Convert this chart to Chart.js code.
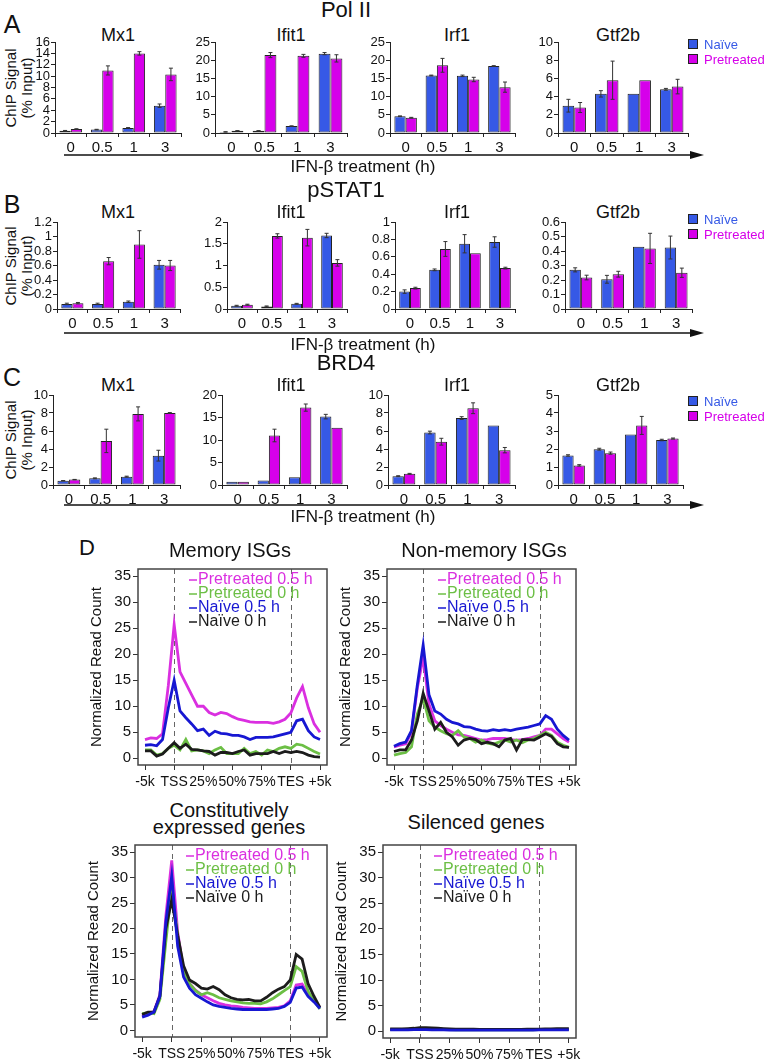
<!DOCTYPE html>
<html>
<head>
<meta charset="utf-8">
<script src="https://cdn.jsdelivr.net/npm/chart.js@4.4.1/dist/chart.umd.min.js"></script>
<style>
  body { margin: 0; background: #fff; font-family: "Liberation Sans", Arial, sans-serif; }
  #fig { position: relative; width: 765px; height: 1064px; overflow: hidden; }
  #fig canvas { position: absolute; }
  .t { position: absolute; white-space: nowrap; color: #111; line-height: 1; }
</style>
</head>
<body>
<div id="fig"></div>
<script>
// ---- data: ChIP-qPCR (A-C) ----
var times = ["0", "0.5", "1", "3"];

// A: Pol II
var pol_Mx1_naive = [0.4, 0.6, 0.9, 4.8],     pol_Mx1_naiveErr = [0.05, 0.05, 0.05, 0.3];
var pol_Mx1_pre   = [0.7, 11.0, 14.0, 10.3],  pol_Mx1_preErr   = [0.05, 0.8, 0.3, 1.1];
var pol_Ifit1_naive = [0.3, 0.6, 1.9, 21.8],  pol_Ifit1_naiveErr = [0.05, 0.05, 0.05, 0.3];
var pol_Ifit1_pre   = [0.6, 21.4, 21.2, 20.5], pol_Ifit1_preErr  = [0.05, 0.7, 0.4, 1.0];
var pol_Irf1_naive = [4.6, 15.8, 15.7, 18.4], pol_Irf1_naiveErr = [0.1, 0.1, 0.2, 0.1];
var pol_Irf1_pre   = [4.2, 18.6, 14.7, 12.6], pol_Irf1_preErr   = [0.1, 1.9, 0.6, 1.4];
var pol_Gtf2b_naive = [3.0, 4.3, 4.3, 4.8],   pol_Gtf2b_naiveErr = [0.7, 0.35, 0, 0.1];
var pol_Gtf2b_pre   = [2.8, 5.8, 5.8, 5.1],   pol_Gtf2b_preErr   = [0.55, 2.1, 0, 0.8];
var pol_yMax = [16, 25, 25, 10], pol_yStep = [2, 5, 5, 2];

// B: pSTAT1
var stat_Mx1_naive = [0.07, 0.07, 0.1, 0.61],   stat_Mx1_naiveErr = [0.01, 0.01, 0.01, 0.06];
var stat_Mx1_pre   = [0.08, 0.66, 0.89, 0.60],  stat_Mx1_preErr   = [0.01, 0.05, 0.19, 0.07];
var stat_Ifit1_naive = [0.075, 0.06, 0.12, 1.69], stat_Ifit1_naiveErr = [0.01, 0.01, 0.01, 0.05];
var stat_Ifit1_pre   = [0.1, 1.68, 1.64, 1.06],   stat_Ifit1_preErr   = [0.01, 0.05, 0.19, 0.075];
var stat_Irf1_naive = [0.2, 0.45, 0.75, 0.77],  stat_Irf1_naiveErr = [0.02, 0.01, 0.105, 0.06];
var stat_Irf1_pre   = [0.24, 0.69, 0.64, 0.47], stat_Irf1_preErr   = [0.01, 0.085, 0, 0.01];
var stat_Gtf2b_naive = [0.27, 0.205, 0.43, 0.424], stat_Gtf2b_naiveErr = [0.014, 0.027, 0, 0.079];
var stat_Gtf2b_pre   = [0.217, 0.24, 0.418, 0.25], stat_Gtf2b_preErr   = [0.016, 0.02, 0.104, 0.032];
var stat_yMax = [1.2, 2, 1, 0.6], stat_yStep = [0.2, 0.5, 0.2, 0.1];

// C: BRD4
var brd_Mx1_naive = [0.48, 0.74, 0.93, 3.26], brd_Mx1_naiveErr = [0.02, 0.05, 0.05, 0.6];
var brd_Mx1_pre   = [0.6, 4.9, 7.9, 8.0],     brd_Mx1_preErr   = [0.02, 1.3, 0.78, 0.05];
var brd_Ifit1_naive = [0.7, 1.0, 1.7, 15.2],  brd_Ifit1_naiveErr = [0, 0, 0, 0.5];
var brd_Ifit1_pre   = [0.7, 11.0, 17.2, 12.7], brd_Ifit1_preErr  = [0, 1.4, 0.8, 0];
var brd_Irf1_naive = [0.98, 5.83, 7.44, 6.62], brd_Irf1_naiveErr = [0.05, 0.15, 0.15, 0];
var brd_Irf1_pre   = [1.24, 4.81, 8.53, 3.87], brd_Irf1_preErr   = [0.05, 0.38, 0.6, 0.3];
var brd_Gtf2b_naive = [1.64, 1.99, 2.8, 2.5],  brd_Gtf2b_naiveErr = [0.04, 0.05, 0, 0.04];
var brd_Gtf2b_pre   = [1.09, 1.77, 3.31, 2.58], brd_Gtf2b_preErr  = [0.04, 0.06, 0.5, 0.03];
var brd_yMax = [10, 20, 10, 5], brd_yStep = [2, 5, 2, 1];

// ---- data: metagene profiles (D) ----
var regionTicks = ["-5k", "TSS", "25%", "50%", "75%", "TES", "+5k"];
var regionPos = [0, 10, 20, 30, 40, 50, 60];
var boundaryPos = [10, 50];
var binPos = [0, 2, 4, 6, 8, 10, 12, 14, 16, 18, 20, 22, 24, 26, 28, 30, 32, 34, 36, 38, 40, 42, 44, 46, 48, 50, 52, 54, 56, 58, 60];
var readTicks = [0, 5, 10, 15, 20, 25, 30, 35];

var mem_pre05   = [3.6, 3.9, 3.8, 4.7, 14.0, 25.7, 16.6, 14.4, 12.2, 10.0, 10.0, 8.8, 8.3, 8.8, 8.6, 8.0, 7.5, 7.3, 7.0, 6.9, 6.9, 6.9, 6.7, 7.0, 7.5, 8.7, 11.6, 13.8, 9.7, 6.6, 5.0];
var mem_pre0    = [1.6, 1.6, 0.6, 0.9, 1.9, 2.5, 1.6, 3.6, 1.4, 1.6, 1.4, 0.9, 1.6, 2.1, 0.9, 0.9, 0.9, 1.9, 0.9, 1.3, 0.6, 1.6, 1.3, 1.9, 2.2, 1.9, 2.7, 2.5, 1.9, 1.3, 0.8];
var mem_naive05 = [2.5, 2.6, 2.4, 3.6, 9.7, 15.0, 9.1, 7.8, 6.6, 5.3, 5.6, 4.4, 5.2, 4.8, 4.7, 4.4, 4.4, 4.1, 3.6, 4.0, 4.0, 4.0, 4.1, 4.4, 4.7, 5.0, 7.2, 7.5, 5.3, 4.1, 3.6];
var mem_naive0  = [1.4, 1.4, 0.4, 0.8, 1.9, 3.0, 1.9, 2.7, 1.7, 1.6, 1.4, 1.3, 0.6, 1.1, 1.1, 0.9, 1.3, 1.6, 0.6, 0.9, 0.9, 0.9, 1.3, 0.9, 1.3, 1.1, 1.3, 1.1, 0.6, 0.3, 0.2];

var non_pre05   = [2.2, 2.5, 2.8, 5.0, 13.5, 19.4, 10.4, 7.2, 6.3, 5.6, 5.0, 4.5, 4.4, 4.1, 3.8, 3.5, 3.6, 3.8, 3.8, 3.8, 3.6, 3.5, 3.6, 3.8, 4.1, 4.4, 5.6, 5.6, 4.7, 3.8, 3.1];
var non_pre0    = [0.6, 0.9, 1.1, 2.2, 8.5, 11.6, 7.2, 6.0, 5.3, 4.7, 4.4, 5.3, 4.1, 3.8, 3.1, 3.5, 2.9, 2.7, 3.1, 3.5, 3.1, 3.5, 3.0, 3.5, 3.8, 4.4, 5.0, 4.4, 3.1, 2.5, 2.1];
var non_naive05 = [2.3, 2.8, 3.1, 5.3, 14.1, 21.8, 12.2, 9.1, 8.5, 7.5, 6.9, 6.6, 6.1, 6.0, 5.6, 5.3, 5.2, 5.5, 5.3, 5.5, 5.3, 5.6, 5.8, 6.0, 6.3, 6.6, 8.2, 7.5, 5.6, 4.4, 3.5];
var non_naive0  = [1.3, 1.6, 1.6, 3.5, 7.2, 12.5, 9.1, 5.6, 6.9, 5.0, 4.1, 2.5, 3.5, 3.8, 3.6, 2.8, 3.1, 2.8, 2.2, 3.5, 3.8, 1.6, 3.6, 3.6, 3.5, 4.1, 4.7, 4.2, 2.8, 2.2, 2.1];

var con_pre05   = [2.8, 3.3, 3.7, 7.0, 22.4, 33.4, 19.3, 11.8, 9.2, 7.9, 7.0, 6.4, 5.8, 5.3, 5.0, 4.8, 4.7, 4.5, 4.4, 4.3, 4.3, 4.3, 4.4, 4.5, 4.8, 5.8, 8.9, 9.1, 7.0, 5.8, 4.5];
var con_pre0    = [3.3, 3.5, 3.3, 6.1, 17.4, 28.1, 18.7, 11.8, 9.2, 7.8, 7.0, 7.4, 7.0, 6.4, 6.1, 5.8, 5.6, 5.4, 5.3, 5.3, 5.2, 5.6, 6.2, 7.0, 7.8, 8.6, 12.5, 11.6, 7.7, 5.8, 4.2];
var con_naive05 = [2.6, 3.0, 3.6, 6.7, 21.2, 30.3, 16.5, 10.5, 8.3, 7.0, 6.3, 5.6, 5.0, 4.7, 4.5, 4.3, 4.2, 4.1, 4.1, 4.1, 4.1, 4.1, 4.2, 4.3, 4.7, 5.5, 8.3, 8.5, 6.7, 5.6, 4.3];
var con_naive0  = [3.1, 3.6, 3.6, 6.7, 19.9, 25.6, 18.7, 12.7, 9.9, 9.2, 8.3, 8.1, 8.6, 8.0, 7.0, 6.4, 6.1, 6.0, 6.1, 5.8, 5.8, 6.5, 7.4, 8.1, 8.6, 9.9, 14.9, 14.0, 9.2, 6.7, 4.5];

var sil_pre05   = [0.4, 0.4, 0.4, 0.4, 0.45, 0.5, 0.45, 0.4, 0.4, 0.4, 0.4, 0.35, 0.35, 0.35, 0.35, 0.35, 0.35, 0.35, 0.35, 0.35, 0.35, 0.35, 0.35, 0.35, 0.35, 0.4, 0.4, 0.4, 0.4, 0.4, 0.4];
var sil_pre0    = [0.35, 0.35, 0.35, 0.4, 0.45, 0.45, 0.4, 0.4, 0.35, 0.35, 0.35, 0.3, 0.3, 0.3, 0.3, 0.3, 0.3, 0.3, 0.3, 0.3, 0.3, 0.3, 0.3, 0.3, 0.3, 0.35, 0.35, 0.35, 0.35, 0.35, 0.35];
var sil_naive05 = [0.3, 0.3, 0.3, 0.3, 0.35, 0.35, 0.35, 0.3, 0.3, 0.3, 0.25, 0.25, 0.25, 0.25, 0.25, 0.25, 0.25, 0.25, 0.25, 0.25, 0.25, 0.25, 0.25, 0.25, 0.25, 0.3, 0.3, 0.3, 0.3, 0.3, 0.3];
var sil_naive0  = [0.5, 0.5, 0.5, 0.55, 0.6, 0.7, 0.7, 0.65, 0.6, 0.55, 0.5, 0.45, 0.45, 0.45, 0.45, 0.4, 0.4, 0.4, 0.4, 0.4, 0.4, 0.4, 0.4, 0.45, 0.45, 0.45, 0.5, 0.5, 0.55, 0.55, 0.55];

var seriesNames = ["Pretreated 0.5 h", "Pretreated 0 h", "Naïve 0.5 h", "Naïve 0 h"];

// ---- setup ----
var FONT = '"Liberation Sans", Arial, sans-serif';
Chart.defaults.font.family = FONT;
Chart.defaults.color = '#111';
Chart.defaults.animation = false;
Chart.defaults.plugins.legend.display = false;
Chart.defaults.plugins.tooltip.enabled = false;

var fig = document.getElementById('fig');
var naiveColor = '#3659e6', preColor = '#d600ea';
var lineColors = ['#da2fe0', '#6cbf45', '#1717d2', '#1c1c1c'];

function text(str, x, y, size, opt) {
  opt = opt || {};
  var d = document.createElement('div');
  d.className = 't';
  d.textContent = str;
  d.style.left = x + 'px';
  d.style.top = y + 'px';
  d.style.fontSize = size + 'px';
  if (opt.color) d.style.color = opt.color;
  var tr = opt.left ? 'translate(0,-50%)' : 'translate(-50%,-50%)';
  if (opt.rot) tr += ' rotate(-90deg)';
  d.style.transform = tr;
  if (opt.lh) { d.style.lineHeight = opt.lh + 'px'; d.style.textAlign = 'center'; d.style.whiteSpace = 'pre'; }
  fig.appendChild(d);
}

function canvasAt(l, t, w, h) {
  var c = document.createElement('canvas');
  c.width = w; c.height = h;
  c.style.left = l + 'px'; c.style.top = t + 'px';
  c.style.width = w + 'px'; c.style.height = h + 'px';
  fig.appendChild(c);
  return c;
}

// plain tick text: 0, 0.2, 1, 1.2 (no padded decimals)
function plainTick(v) { return String(Math.round(v * 1000) / 1000); }

var errorBars = {
  id: 'errorBars',
  afterDatasetsDraw: function (chart) {
    var ctx = chart.ctx, y = chart.scales.y;
    ctx.save();
    ctx.strokeStyle = '#333';
    ctx.lineWidth = 1;
    chart.data.datasets.forEach(function (ds, i) {
      chart.getDatasetMeta(i).data.forEach(function (bar, j) {
        var e = ds.errors[j];
        if (!e) return;
        var top = y.getPixelForValue(ds.data[j] + e), bot = y.getPixelForValue(ds.data[j] - e);
        ctx.beginPath();
        ctx.moveTo(bar.x, top); ctx.lineTo(bar.x, bot);
        ctx.moveTo(bar.x - 2, top); ctx.lineTo(bar.x + 2, top);
        ctx.moveTo(bar.x - 2, bot); ctx.lineTo(bar.x + 2, bot);
        ctx.stroke();
      });
    });
    ctx.restore();
  }
};

function barChart(box, naive, pre, naiveErr, preErr, yMax, yStep) {
  var YW = 34, PT = 9, PR = 4, XH = 24;
  var cv = canvasAt(box[0] - YW, box[1] - PT, box[2] - box[0] + YW + PR, box[3] - box[1] + PT + XH);
  new Chart(cv, {
    type: 'bar',
    data: {
      labels: times,
      datasets: [
        { label: 'Naïve', data: naive, errors: naiveErr, backgroundColor: naiveColor, borderColor: '#222',
          borderWidth: 1, borderSkipped: false, categoryPercentage: 0.72, barPercentage: 1.0 },
        { label: 'Pretreated', data: pre, errors: preErr, backgroundColor: preColor, borderColor: '#222',
          borderWidth: 1, borderSkipped: false, categoryPercentage: 0.72, barPercentage: 1.0 }
      ]
    },
    options: {
      responsive: false,
      layout: { padding: { top: PT, right: PR, left: 0, bottom: 0 } },
      scales: {
        x: {
          grid: { drawOnChartArea: false, drawTicks: true, tickLength: 4, color: '#222', offset: true },
          border: { color: '#222', width: 1 },
          ticks: { font: { size: 15 }, padding: 2, color: '#111', maxRotation: 0, autoSkip: false },
          afterFit: function (s) { s.height = XH; }
        },
        y: {
          min: 0, max: yMax,
          grid: { drawOnChartArea: false, drawTicks: true, tickLength: 4, color: '#222' },
          border: { color: '#222', width: 1 },
          ticks: { stepSize: yStep, font: { size: 13 }, padding: 1, color: '#111', autoSkip: false, callback: plainTick },
          afterFit: function (s) { s.width = YW; }
        }
      }
    },
    plugins: [errorBars]
  });
}

// frame, TSS/TES markers and in-plot legend for the profiles
var profileDecor = {
  id: 'profileDecor',
  beforeDatasetsDraw: function (chart) {
    var a = chart.chartArea, x = chart.scales.x, ctx = chart.ctx;
    ctx.save();
    ctx.strokeStyle = '#666';
    ctx.lineWidth = 1;
    ctx.setLineDash([5, 4]);
    boundaryPos.forEach(function (v) {
      var px = Math.round(x.getPixelForValue(v)) + 0.5;
      ctx.beginPath(); ctx.moveTo(px, a.top); ctx.lineTo(px, a.bottom); ctx.stroke();
    });
    ctx.restore();
  },
  afterDraw: function (chart) {
    var a = chart.chartArea, ctx = chart.ctx;
    ctx.save();
    ctx.strokeStyle = '#444';
    ctx.lineWidth = 1.5;
    ctx.strokeRect(a.left, a.top, a.right - a.left, a.bottom - a.top);
    ctx.font = '16px ' + FONT;
    ctx.textBaseline = 'middle';
    chart.data.datasets.forEach(function (ds, i) {
      var lx = a.left + 51, ly = a.top + 10 + i * 14;
      ctx.strokeStyle = ds.borderColor;
      ctx.lineWidth = 1.5;
      ctx.beginPath(); ctx.moveTo(lx, ly + 1); ctx.lineTo(lx + 8, ly + 1); ctx.stroke();
      ctx.fillStyle = ds.borderColor;
      ctx.fillText(ds.label, lx + 9, ly + 1);
    });
    ctx.restore();
  }
};

function lineChart(box, series) {
  var YW = 50, PT = 6, PR = 16, XH = 30;
  var cv = canvasAt(box[0] - YW, box[1] - PT, box[2] - box[0] + YW + PR, box[3] - box[1] + PT + XH);
  var drawOrder = [4, 3, 1, 2];
  new Chart(cv, {
    type: 'line',
    data: {
      datasets: series.map(function (s, i) {
        return {
          label: seriesNames[i],
          data: binPos.map(function (p, k) { return { x: p, y: s[k] }; }),
          borderColor: lineColors[i], borderWidth: 2.8, pointRadius: 0, tension: 0,
          fill: false, order: drawOrder[i]
        };
      })
    },
    options: {
      responsive: false,
      layout: { padding: { top: PT, right: PR, left: 0, bottom: 0 } },
      scales: {
        x: {
          type: 'linear', min: -2.4, max: 62.4,
          afterBuildTicks: function (s) { s.ticks = regionPos.map(function (v) { return { value: v }; }); },
          ticks: { font: { size: 14 }, padding: 4, color: '#111', maxRotation: 0, minRotation: 0, autoSkip: false,
                   callback: function (v) { return regionTicks[regionPos.indexOf(v)]; } },
          grid: { drawOnChartArea: false, drawTicks: true, tickLength: 5, color: '#333' },
          border: { display: false },
          afterFit: function (s) { s.height = XH; }
        },
        y: {
          min: -1.3, max: 36.4,
          afterBuildTicks: function (s) { s.ticks = readTicks.map(function (v) { return { value: v }; }); },
          ticks: { font: { size: 15 }, padding: 2, color: '#111', autoSkip: false },
          grid: { drawOnChartArea: false, drawTicks: true, tickLength: 5, color: '#333' },
          border: { display: false },
          title: { display: true, text: 'Normalized Read Count', font: { size: 15 }, color: '#111', padding: { top: 0, bottom: 0 } },
          afterFit: function (s) { s.width = YW; }
        }
      }
    },
    plugins: [profileDecor]
  });
}

// ---- panels A-C ----
var rows = [
  { letter: 'A', name: 'Pol II', top: 42, bottom: 133, titleY: 35, arrowY: 155, legY: 44,
    cols: [[55, 181], [215, 347], [390, 515], [558, 688]], yMax: pol_yMax, yStep: pol_yStep,
    sets: [[pol_Mx1_naive, pol_Mx1_pre, pol_Mx1_naiveErr, pol_Mx1_preErr],
           [pol_Ifit1_naive, pol_Ifit1_pre, pol_Ifit1_naiveErr, pol_Ifit1_preErr],
           [pol_Irf1_naive, pol_Irf1_pre, pol_Irf1_naiveErr, pol_Irf1_preErr],
           [pol_Gtf2b_naive, pol_Gtf2b_pre, pol_Gtf2b_naiveErr, pol_Gtf2b_preErr]] },
  { letter: 'B', name: 'pSTAT1', top: 222, bottom: 309, titleY: 212, arrowY: 333, legY: 219,
    cols: [[57, 180], [227, 347], [395, 515], [565, 692]], yMax: stat_yMax, yStep: stat_yStep,
    sets: [[stat_Mx1_naive, stat_Mx1_pre, stat_Mx1_naiveErr, stat_Mx1_preErr],
           [stat_Ifit1_naive, stat_Ifit1_pre, stat_Ifit1_naiveErr, stat_Ifit1_preErr],
           [stat_Irf1_naive, stat_Irf1_pre, stat_Irf1_naiveErr, stat_Irf1_preErr],
           [stat_Gtf2b_naive, stat_Gtf2b_pre, stat_Gtf2b_naiveErr, stat_Gtf2b_preErr]] },
  { letter: 'C', name: 'BRD4', top: 395, bottom: 485, titleY: 385, arrowY: 505, legY: 401,
    cols: [[53, 180], [222, 347], [388, 515], [558, 683]], yMax: brd_yMax, yStep: brd_yStep,
    sets: [[brd_Mx1_naive, brd_Mx1_pre, brd_Mx1_naiveErr, brd_Mx1_preErr],
           [brd_Ifit1_naive, brd_Ifit1_pre, brd_Ifit1_naiveErr, brd_Ifit1_preErr],
           [brd_Irf1_naive, brd_Irf1_pre, brd_Irf1_naiveErr, brd_Irf1_preErr],
           [brd_Gtf2b_naive, brd_Gtf2b_pre, brd_Gtf2b_naiveErr, brd_Gtf2b_preErr]] }
];
var genes = ["Mx1", "Ifit1", "Irf1", "Gtf2b"];
var geneX = [118, 291, 457, 618];

var svgNS = 'http://www.w3.org/2000/svg';
var svg = document.createElementNS(svgNS, 'svg');
svg.setAttribute('width', 765); svg.setAttribute('height', 1064);
svg.style.position = 'absolute'; svg.style.left = '0'; svg.style.top = '0';
fig.appendChild(svg);

rows.forEach(function (r) {
  text(r.letter, 12, r.top - 18, 25);
  text(r.name, 346, r.top - 32, 22);
  var mid = (r.top + r.bottom) / 2;
  text('ChIP Signal', 10, mid, 15, { rot: true });
  text('(% Input)', 26, mid, 15, { rot: true });
  r.cols.forEach(function (c, i) {
    text(genes[i], geneX[i], r.titleY, 18);
    var s = r.sets[i];
    barChart([c[0], r.top, c[1], r.bottom], s[0], s[1], s[2], s[3], r.yMax[i], r.yStep[i]);
  });
  // time arrow
  var ln = document.createElementNS(svgNS, 'line');
  ln.setAttribute('x1', 64); ln.setAttribute('x2', 694);
  ln.setAttribute('y1', r.arrowY); ln.setAttribute('y2', r.arrowY);
  ln.setAttribute('stroke', '#111'); ln.setAttribute('stroke-width', 1.5);
  svg.appendChild(ln);
  var hd = document.createElementNS(svgNS, 'polygon');
  hd.setAttribute('points', '690,' + (r.arrowY - 4) + ' 704,' + r.arrowY + ' 690,' + (r.arrowY + 4));
  hd.setAttribute('fill', '#111');
  svg.appendChild(hd);
  text('IFN-β treatment (h)', 363, r.arrowY + 11, 17);
  // legend
  [['Naïve', naiveColor], ['Pretreated', preColor]].forEach(function (it, k) {
    var sq = document.createElement('div');
    sq.style.cssText = 'position:absolute;width:8px;height:8px;border:1px solid #222;background:' + it[1] +
      ';left:688px;top:' + (r.legY + k * 15 - 5) + 'px;';
    fig.appendChild(sq);
    text(it[0], 704, r.legY + k * 15, 13, { left: true, color: it[1] });
  });
});

// ---- panel D ----
text('D', 87, 548, 22);
text('Memory ISGs', 230, 550, 20);
text('Non-memory ISGs', 484, 550, 20);
text('Constitutively\nexpressed genes', 229, 819, 20, { lh: 17 });
text('Silenced genes', 476, 822, 20);

lineChart([138, 564, 327, 765], [mem_pre05, mem_pre0, mem_naive05, mem_naive0]);
lineChart([387, 564, 576, 765], [non_pre05, non_pre0, non_naive05, non_naive0]);
lineChart([135, 840, 327, 1037], [con_pre05, con_pre0, con_naive05, con_naive0]);
lineChart([383, 840, 576, 1038], [sil_pre05, sil_pre0, sil_naive05, sil_naive0]);
</script>
</body>
</html>
